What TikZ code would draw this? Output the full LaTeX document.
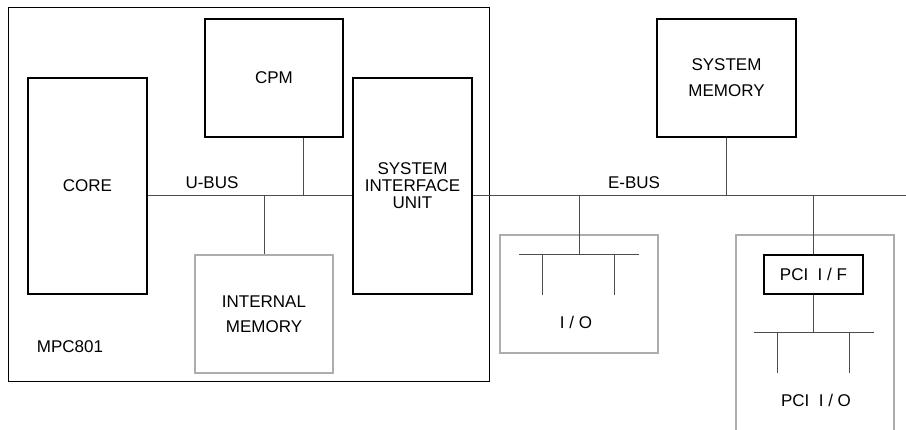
\documentclass[tikz,border=0pt]{standalone}
\usepackage{fontspec}
\setmainfont{Liberation Sans}
\usetikzlibrary{positioning}
\definecolor{boxgray}{gray}{0.68}
\definecolor{busgray}{gray}{0.3}
\begin{document}
\begin{tikzpicture}[x=1pt, y=-1pt,
  font=\fontsize{17}{17}\selectfont,
  blk/.style={draw, line width=2pt, align=center, inner sep=0pt},
  grp/.style={draw=boxgray, line width=1.6pt, align=center, inner sep=0pt},
  bus/.style={draw=busgray, line width=1pt}]
\useasboundingbox (0,0) rectangle (906,430);

% Chip outline
\node[draw, line width=0.9pt, minimum width=481, minimum height=374] (chip) at (248.5,194) {};
\node (chiplbl) at (70,347) {MPC801};

% Blocks inside the chip
\node[blk, minimum width=119, minimum height=216] (core) at (87.5,186) {CORE};
\node[blk, minimum width=138, minimum height=118] (cpm) at (274,78) {CPM};
\node[blk, minimum width=119, minimum height=216] (siu) at (412.5,186) {SYSTEM\\INTERFACE\\UNIT};
\node[grp, minimum width=138, minimum height=118] (imem) at (264,314) {INTERNAL\\[8pt]MEMORY};

% Blocks outside the chip
\node[blk, minimum width=139, minimum height=118] (smem) at (726.5,78) {SYSTEM\\[9pt]MEMORY};
\node[grp, minimum width=158, minimum height=118] (iobox) at (579,294) {};
\node (iolbl) at (576,322) {I / O};
\node[blk, minimum width=99, minimum height=39] (pcif) at (813.5,274.5) {PCI~~I / F};
\node (pciolbl) at (816,400) {PCI~~I / O};

% PCI group (open at the bottom)
\draw[boxgray, line width=1.6pt] (736,432) -- (736,235) -- (894,235) -- (894,432);

% Bus taps
\coordinate (ubus) at (0,196);
\coordinate (cpmtap) at (303,196);
\coordinate (ebusend) at (906,196);
\coordinate (iobar) at (579,255);
\coordinate (pcibar) at (813.5,333);

% U-BUS
\draw[bus] (core.east |- ubus) -- (siu.west |- ubus);
\node (ubuslbl) at (212,183) {U-BUS};
\draw[bus] (cpmtap |- cpm.south) -- (cpmtap);
\draw[bus] (imem.north) -- (imem.north |- ubus);

% E-BUS
\draw[bus] (siu.east |- ubus) -- (ebusend);
\node (ebuslbl) at (634,183) {E-BUS};
\draw[bus] (smem.south) -- (smem.south |- ubus);
\draw[bus] (iobar |- ubus) -- (iobar);
\draw[bus] (pcif.north |- ubus) -- (pcif.north);

% I/O local bus
\draw[bus] ([xshift=-60]iobar) -- ([xshift=60]iobar);
\draw[bus] (542,255) -- (542,295);
\draw[bus] (614,255) -- (614,295);

% PCI local bus
\draw[bus] (pcif.south) -- (pcibar);
\draw[bus] ([xshift=-60]pcibar) -- ([xshift=60]pcibar);
\draw[bus] (777,333) -- (777,373);
\draw[bus] (849,333) -- (849,373);

\end{tikzpicture}
\end{document}
